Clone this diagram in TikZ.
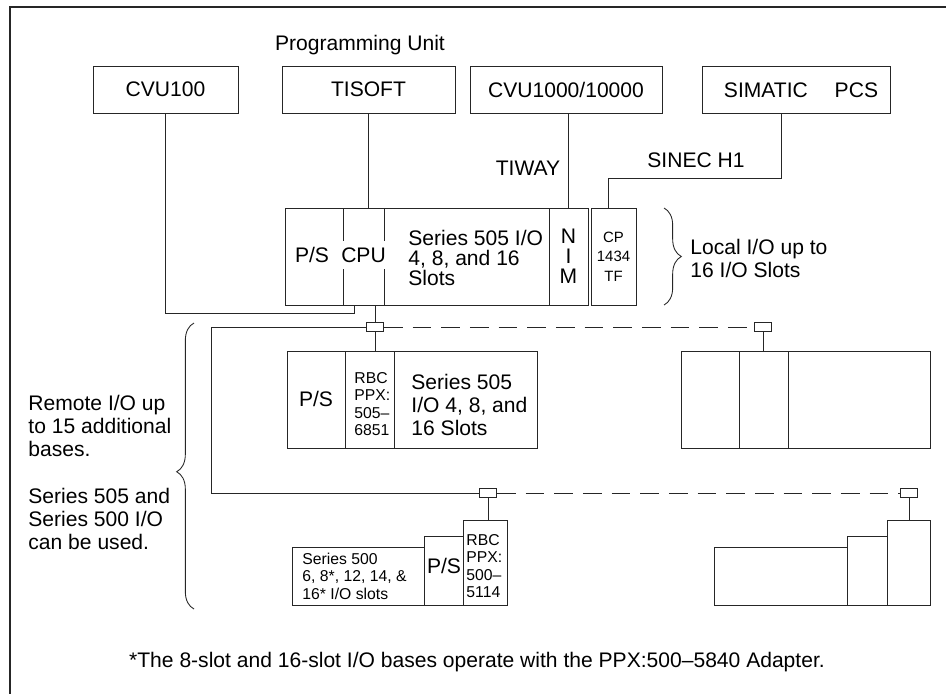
\documentclass[tikz,border=0pt]{standalone}
\usepackage{fontspec}
\setmainfont{Liberation Sans}
\usetikzlibrary{fit,decorations.pathreplacing}

\begin{document}
\begin{tikzpicture}[x=0.75pt, y=-0.75pt, line width=0.65pt, draw=black!85,
    every node/.style={inner sep=0pt},
    unit/.style={draw},
    tapbox/.style={draw, fill=white, minimum width=12.75pt, minimum height=6.75pt},
    txt/.style={font=\fontsize{15.8}{17.3}\selectfont, align=left},
    tight/.style={font=\fontsize{15.8}{15}\selectfont, align=left},
    small/.style={font=\fontsize{11.8}{13.1}\selectfont, align=left},
    tiny/.style={font=\fontsize{11.2}{14.6}\selectfont, align=center},
    trunk/.style={dash pattern=on 14pt off 7.5pt},
    curly/.style={decorate, decoration={brace, amplitude=13pt, #1}}]
  \useasboundingbox (0,0) rectangle (946,694);
  \draw[line width=1.8pt] (946,7) -- (10,7) -- (10,694);

  % programming units
  \node[txt] (prog) at (360,45) {Programming Unit};
  \node[unit, fit={(93,66) (238,113)}] (cvu100) {};
  \node[txt] (cvu100t) at (cvu100) {CVU100};
  \node[unit, fit={(282,66) (455,113)}] (tisoft) {};
  \node[txt] (tisoftt) at (tisoft) {TISOFT};
  \node[unit, fit={(470,66) (662,113)}] (cvu1000) {};
  \node[txt] (cvu1000t) at (cvu1000) {CVU1000/10000};
  \node[unit, fit={(702,66) (890,113)}] (simatic) {};
  \node[txt] (simatict) at (801,90) {SIMATIC \quad PCS};

  % local base
  \node[unit, fit={(285,208) (343,305)}] (ps) {};
  \node[unit, fit={(343,208) (384,305)}] (cpu) {};
  \node[unit, fit={(384,208) (549,305)}] (sio) {};
  \node[unit, fit={(549,208) (588,305)}] (nim) {};
  \node[unit, fit={(591,208) (636,305)}] (cp) {};
  \node[txt] (pst) at (312,255) {P/S};
  \node[txt, fill=white, inner xsep=1.5pt, inner ysep=5pt] (cput) at (363.5,255) {CPU};
  \node[tight, anchor=west] (siot) at (408,258) {Series 505 I/O\\4, 8, and 16\\Slots};
  \node[tight, align=center] (nimt) at (nim) {N\\I\\M};
  \node[tiny] (cpt) at (cp) {CP\\1434\\TF};
  \node[txt] (tiway) at (528,168) {TIWAY};
  \node[txt] (sinec) at (696,160) {SINEC H1};
  \draw[curly] (664,208) -- (664,305);
  \node[txt, anchor=west] (localt) at (690,258.5) {Local I/O up to\\16 I/O Slots};

  \coordinate (pu2cpu) at (354,313);
  \coordinate (h1a) at (781,178);
  \coordinate (h1b) at (608,178);
  \draw (cvu100.south) |- (pu2cpu) -- (pu2cpu |- cpu.south);
  \draw (tisoft.south) -- (tisoft.south |- cpu.north);
  \draw (nim.north) -- (nim.north |- cvu1000.south);
  \draw (h1a |- simatic.south) -- (h1a) -- (h1b) -- (h1b |- cp.north);

  % remote bases
  \node[unit, fit={(287,351) (345,448)}] (ps2) {};
  \node[unit, fit={(345,351) (394,448)}] (rbc2) {};
  \node[unit, fit={(394,351) (537,448)}] (sio2) {};
  \node[txt] (ps2t) at (316,399) {P/S};
  \node[small, anchor=west] (rbc2t) at (354,404) {RBC\\PPX:\\505--\\6851};
  \node[txt, anchor=west] (sio2t) at (411,405) {Series 505\\I/O 4, 8, and\\16 Slots};
  \node[unit, fit={(681,351) (739,448)}] (ps4) {};
  \node[unit, fit={(739,351) (788,448)}] (rbc4) {};
  \node[unit, fit={(788,351) (930,448)}] (sio4) {};

  \node[unit, fit={(292,547) (424,605)}] (s500) {};
  \node[unit, fit={(424,536) (463,605)}] (ps3) {};
  \node[unit, fit={(463,520) (507,605)}] (rbc3) {};
  \node[small, anchor=west] (s500t) at (302,576) {Series 500\\6, 8*, 12, 14, \&\\16* I/O slots};
  \node[txt] (ps3t) at (444,566) {P/S};
  \node[small, anchor=west] (rbc3t) at (466,566) {RBC\\PPX:\\500--\\5114};
  \node[unit, fit={(714,547) (847,605)}] (s500b) {};
  \node[unit, fit={(847,536) (887,605)}] (ps5) {};
  \node[unit, fit={(887,520) (930,605)}] (rbc5) {};

  \node[tapbox] (tap1) at (375,327) {};
  \node[tapbox] (tap2) at (763,327) {};
  \node[tapbox] (tap3) at (488,493) {};
  \node[tapbox] (tap4) at (909,493) {};
  \coordinate (bus) at (211,327);
  \draw (tap1.north |- cpu.south) -- (tap1.north);
  \draw (tap1.south) -- (tap1.south |- rbc2.north);
  \draw (tap2.south) -- (tap2.south |- rbc4.north);
  \draw (tap3.south) -- (tap3.south |- rbc3.north);
  \draw (tap4.south) -- (tap4.south |- rbc5.north);
  \draw (tap1.west) -- (bus) |- (tap3.west);
  \draw[trunk] (tap1.east) -- (tap2.west);
  \draw[trunk] (tap3.east) -- (tap4.west);

  \draw[curly={aspect=0.48}] (194,609) -- (194,323);
  \node[txt, anchor=west] (remt) at (28,426) {Remote I/O up\\to 15 additional\\bases.};
  \node[txt, anchor=west] (mixt) at (28,519) {Series 505 and\\Series 500 I/O\\can be used.};

  \node[txt] (note) at (477,662) {*The 8-slot and 16-slot I/O bases operate with the PPX:500--5840 Adapter.};
\end{tikzpicture}
\end{document}
